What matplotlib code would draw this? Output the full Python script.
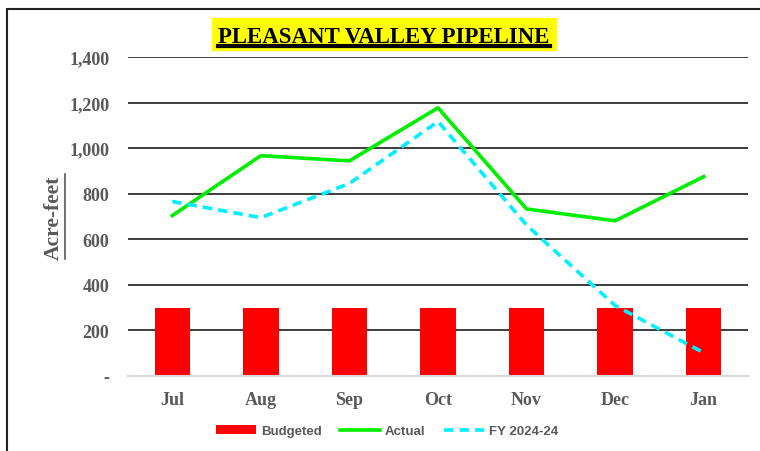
import matplotlib
matplotlib.use("Agg")
import matplotlib.pyplot as plt
from matplotlib.lines import Line2D
from matplotlib.patches import Rectangle
import numpy as np

# data
months = ["Jul", "Aug", "Sep", "Oct", "Nov", "Dec", "Jan"]
budgeted = [300, 300, 300, 300, 300, 300, 300]
actual = [704, 967, 944, 1177, 733, 681, 875]
fy_prior = [766, 695, 845, 1117, 662, 309, 102]
yticks = [0, 200, 400, 600, 800, 1000, 1200, 1400]
ytick_labels = ["-", "200", "400", "600", "800", "1,000", "1,200", "1,400"]

gray = "#595959"
serif = ["Liberation Serif", "DejaVu Serif"]

fig = plt.figure(figsize=(7.6, 4.52), dpi=100)
ax = fig.add_axes([128 / 760, 1 - 377 / 452, 620 / 760, 319 / 452])

x = np.arange(len(months))
bars = ax.bar(x, budgeted, width=0.4, color="#ff0000", zorder=2, label="Budgeted")
l_act, = ax.plot(x, actual, color="#00ee00", lw=2.6, zorder=3, label="Actual")
l_fy, = ax.plot(x, fy_prior, color="#00f0ff", lw=2.6, ls=(0, (2.6, 1.7)), zorder=3,
                label="FY 2024-24")

ax.set_xlim(-0.5, len(months) - 0.5)
ax.set_ylim(0, 1400)
ax.set_yticks(yticks)
ax.set_yticklabels(ytick_labels)
ax.set_xticks(x)
ax.set_xticklabels(months)
for lab in ax.get_xticklabels() + ax.get_yticklabels():
    lab.set_family(serif)
    lab.set_fontweight("bold")
    lab.set_fontsize(13)
    lab.set_color(gray)
ax.tick_params(axis="y", length=0, pad=13.5)
ax.tick_params(axis="x", length=0, pad=10.5)

# gridlines
for v in yticks[1:]:
    ax.axhline(v, color="#3c3c3c", lw=1.4, zorder=1)
for s in ["top", "right", "left"]:
    ax.spines[s].set_visible(False)
ax.spines["bottom"].set_color("#d9d9d9")
ax.spines["bottom"].set_linewidth(1.5)

ax.set_ylabel("Acre-feet", family=serif, fontweight="bold", fontsize=15.5,
              color=gray, labelpad=4)

leg = fig.legend([bars, l_act, l_fy], ["Budgeted", "Actual", "FY 2024-24"],
                 loc="center", bbox_to_anchor=(387 / 760, 1 - 432 / 452),
                 ncol=3, frameon=False, handlelength=3.0, columnspacing=1.4,
                 handletextpad=0.4,
                 prop={"family": "Liberation Sans", "weight": "bold", "size": 9.5})
for t in leg.get_texts():
    t.set_color(gray)

title = fig.text(384 / 760, 1 - 43 / 452, "PLEASANT VALLEY PIPELINE", ha="center",
                 va="baseline", family=serif, fontweight="bold", fontsize=16.5,
                 color="black", zorder=5)

# frame around the chart
fig.patches.append(Rectangle((7 / 760, -0.1), 1.2, 1 - 9.5 / 452 + 0.1,
                             transform=fig.transFigure, fill=False,
                             edgecolor="#222222", lw=1.5))

fig.canvas.draw()
inv = fig.transFigure.inverted()
tb = title.get_window_extent()
bx0, by0 = inv.transform((tb.x0 - 6, 452 - 51))
bx1, by1 = inv.transform((tb.x1 + 6, 452 - 19))
fig.patches.append(Rectangle((bx0, by0), bx1 - bx0, by1 - by0,
                             transform=fig.transFigure, color="#ffff00", zorder=1))
ux0, uy = inv.transform((tb.x0, 452 - 46.5))
ux1, _ = inv.transform((tb.x1, 0))
fig.add_artist(Line2D([ux0, ux1], [uy, uy], transform=fig.transFigure,
                      color="black", lw=3))

yl = ax.yaxis.label.get_window_extent()
lx, ly0 = inv.transform((yl.x1 + 1.5, yl.y0))
_, ly1 = inv.transform((0, yl.y1))
fig.add_artist(Line2D([lx, lx], [ly0, ly1], transform=fig.transFigure,
                      color=gray, lw=1.2))

fig.savefig("out.png", dpi=100)
